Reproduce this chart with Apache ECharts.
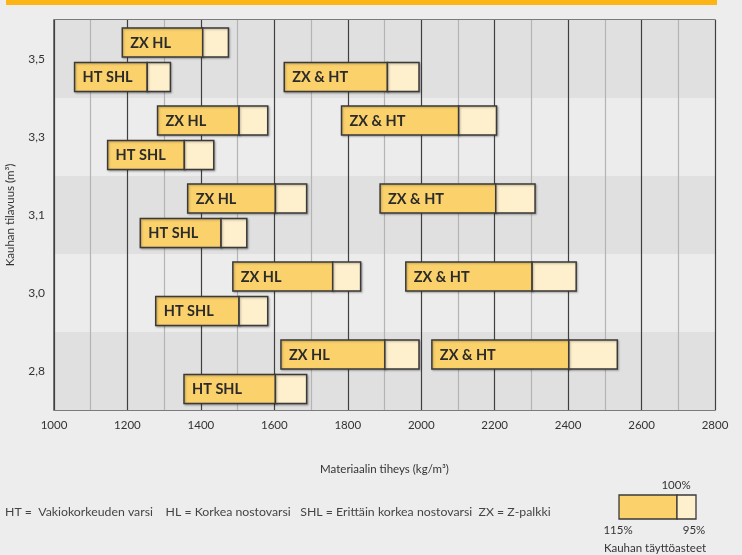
<!DOCTYPE html>
<html>
<head>
<meta charset="utf-8">
<script src="https://cdn.jsdelivr.net/npm/echarts@6/dist/echarts.min.js"></script>
<style>
html,body{margin:0;padding:0;background:#ededed;}
#main{width:742px;height:555px;}
</style>
</head>
<body>
<div id="main"></div>
<script>
// Bucket volumes (bottom to top)
const volumes = ['2,8', '3,0', '3,1', '3,3', '3,5'];
// Density ranges (kg/m³) at 115 %, 100 % and 95 % fill
const zxHl115 = [1618, 1487, 1364, 1282, 1186];
const zxHl100 = [1901, 1759, 1603, 1504, 1405];
const zxHl95  = [1994, 1835, 1688, 1582, 1475];
const htShl115 = [1354, 1277, 1235, 1146, 1056];
const htShl100 = [1603, 1504, 1455, 1355, 1254];
const htShl95  = [1688, 1582, 1525, 1435, 1317];
const zxHt115 = [2029, 1958, 1888, 1783, 1627];
const zxHt100 = [2402, 2302, 2203, 2102, 1908];
const zxHt95  = [2534, 2422, 2310, 2205, 1994];
// Row within band: 0 = upper, 1 = lower
const zxHlRow = [0, 0, 0, 0, 0];
const htShlRow = [1, 1, 1, 1, 1];
const zxHtRow = [0, 0, 0, 0, 1];
const xTicks = [1000, 1200, 1400, 1600, 1800, 2000, 2200, 2400, 2600, 2800];

const FONT = 'Lato, "Open Sans", sans-serif';
const MAIN = '#fbd16b';
const LIGHT = '#feefcd';
const EDGE = '#3a3a3a';

function build(name, a, b, c, rows) {
  return volumes.map((v, i) => [a[i], b[i], c[i], i, rows[i], name]);
}
const barData = []
  .concat(build('ZX HL', zxHl115, zxHl100, zxHl95, zxHlRow))
  .concat(build('HT SHL', htShl115, htShl100, htShl95, htShlRow))
  .concat(build('ZX & HT', zxHt115, zxHt100, zxHt95, zxHtRow));

function renderItem(params, api) {
  const cat = api.value(3);
  const row = api.value(4);
  const bandH = api.size([0, 1])[1];
  const p0 = api.coord([api.value(0), cat]);
  const p1 = api.coord([api.value(1), cat]);
  const p2 = api.coord([api.value(2), cat]);
  const off = row === 0 ? -0.212 * bandH : 0.232 * bandH;
  const h = 0.372 * bandH;
  const yc = p0[1] + off;
  const y = yc - h / 2;
  const name = barData[params.dataIndex][5];
  const sh = { shadowBlur: 2, shadowColor: 'rgba(0,0,0,0.25)', shadowOffsetX: 1, shadowOffsetY: 1 };
  return {
    type: 'group',
    children: [
      { type: 'rect', shape: { x: p0[0], y: y, width: p1[0] - p0[0], height: h },
        style: Object.assign({ fill: MAIN, stroke: EDGE, lineWidth: 1.5 }, sh) },
      { type: 'rect', shape: { x: p1[0], y: y, width: p2[0] - p1[0], height: h },
        style: Object.assign({ fill: LIGHT, stroke: EDGE, lineWidth: 1.5 }, sh) },
      { type: 'text', style: { x: p0[0] + 8, y: yc + 0.5, text: name, fill: '#2b2b2b',
        font: 'bold 14.5px ' + FONT, textAlign: 'left', textVerticalAlign: 'middle' } }
    ]
  };
}

const chart = echarts.init(document.getElementById('main'), null, { renderer: 'canvas' });
chart.setOption({
  backgroundColor: '#ededed',
  animation: false,
  grid: { left: 54, right: 27, top: 20, bottom: 145, containLabel: false, outerBoundsMode: 'none',
    show: true, borderColor: '#555', borderWidth: 1.5, backgroundColor: 'transparent' },
  xAxis: {
    type: 'value', min: 1000, max: 2800, interval: 200,
    name: 'Materiaalin tiheys (kg/m³)', nameLocation: 'middle', nameGap: 53,
    nameTextStyle: { fontFamily: FONT, fontSize: 11.5, color: '#333' },
    axisLine: { show: false }, axisTick: { show: false },
    axisLabel: { fontFamily: FONT, fontSize: 11.5, color: '#333', margin: 9,
      formatter: v => xTicks.indexOf(v) >= 0 ? String(v) : '' },
    splitLine: { show: true, lineStyle: { color: '#404040', width: 1.2 } },
    minorTick: { show: false, splitNumber: 2 },
    minorSplitLine: { show: true, lineStyle: { color: '#b4b4b4', width: 1.2 } }
  },
  yAxis: {
    type: 'category', data: volumes, boundaryGap: true,
    name: 'Kauhan tilavuus (m³)', nameLocation: 'middle', nameGap: 38,
    nameTextStyle: { fontFamily: FONT, fontSize: 11.5, color: '#333' },
    axisLine: { show: false }, axisTick: { show: false },
    axisLabel: { fontFamily: FONT, fontSize: 12, color: '#333', margin: 9, padding: [5, 0, 0, 0] },
    splitLine: { show: false },
    splitArea: { show: true, areaStyle: { color: ['#e0e0e0', '#ececec'] } }
  },
  series: [{
    type: 'custom', renderItem: renderItem, data: barData,
    encode: { x: [0, 1, 2], y: 3 }, clip: false, z: 5
  }],
  graphic: [
    { type: 'rect', left: 6, top: 0, shape: { width: 711, height: 5 }, style: { fill: '#fdb515' } },
    { type: 'text', left: 5, top: 506, style: { text: 'HT =  Vakiokorkeuden varsi    HL = Korkea nostovarsi   SHL = Erittäin korkea nostovarsi  ZX = Z-palkki', fill: '#444', font: '12.3px ' + FONT } },
    { type: 'rect', shape: { x: 619, y: 495, width: 58, height: 24 }, style: { fill: MAIN, stroke: EDGE, lineWidth: 1.3 } },
    { type: 'rect', shape: { x: 677, y: 495, width: 19, height: 24 }, style: { fill: LIGHT, stroke: EDGE, lineWidth: 1.3 } },
    { type: 'text', style: { x: 676, y: 485, text: '100%', fill: '#333', font: '11.5px ' + FONT, textAlign: 'center', textVerticalAlign: 'middle' } },
    { type: 'text', style: { x: 618, y: 530, text: '115%', fill: '#333', font: '11.5px ' + FONT, textAlign: 'center', textVerticalAlign: 'middle' } },
    { type: 'text', style: { x: 694, y: 530, text: '95%', fill: '#333', font: '11.5px ' + FONT, textAlign: 'center', textVerticalAlign: 'middle' } },
    { type: 'text', style: { x: 655, y: 548, text: 'Kauhan täyttöasteet', fill: '#333', font: '11.5px ' + FONT, textAlign: 'center', textVerticalAlign: 'middle' } }
  ]
});
</script>
</body>
</html>
